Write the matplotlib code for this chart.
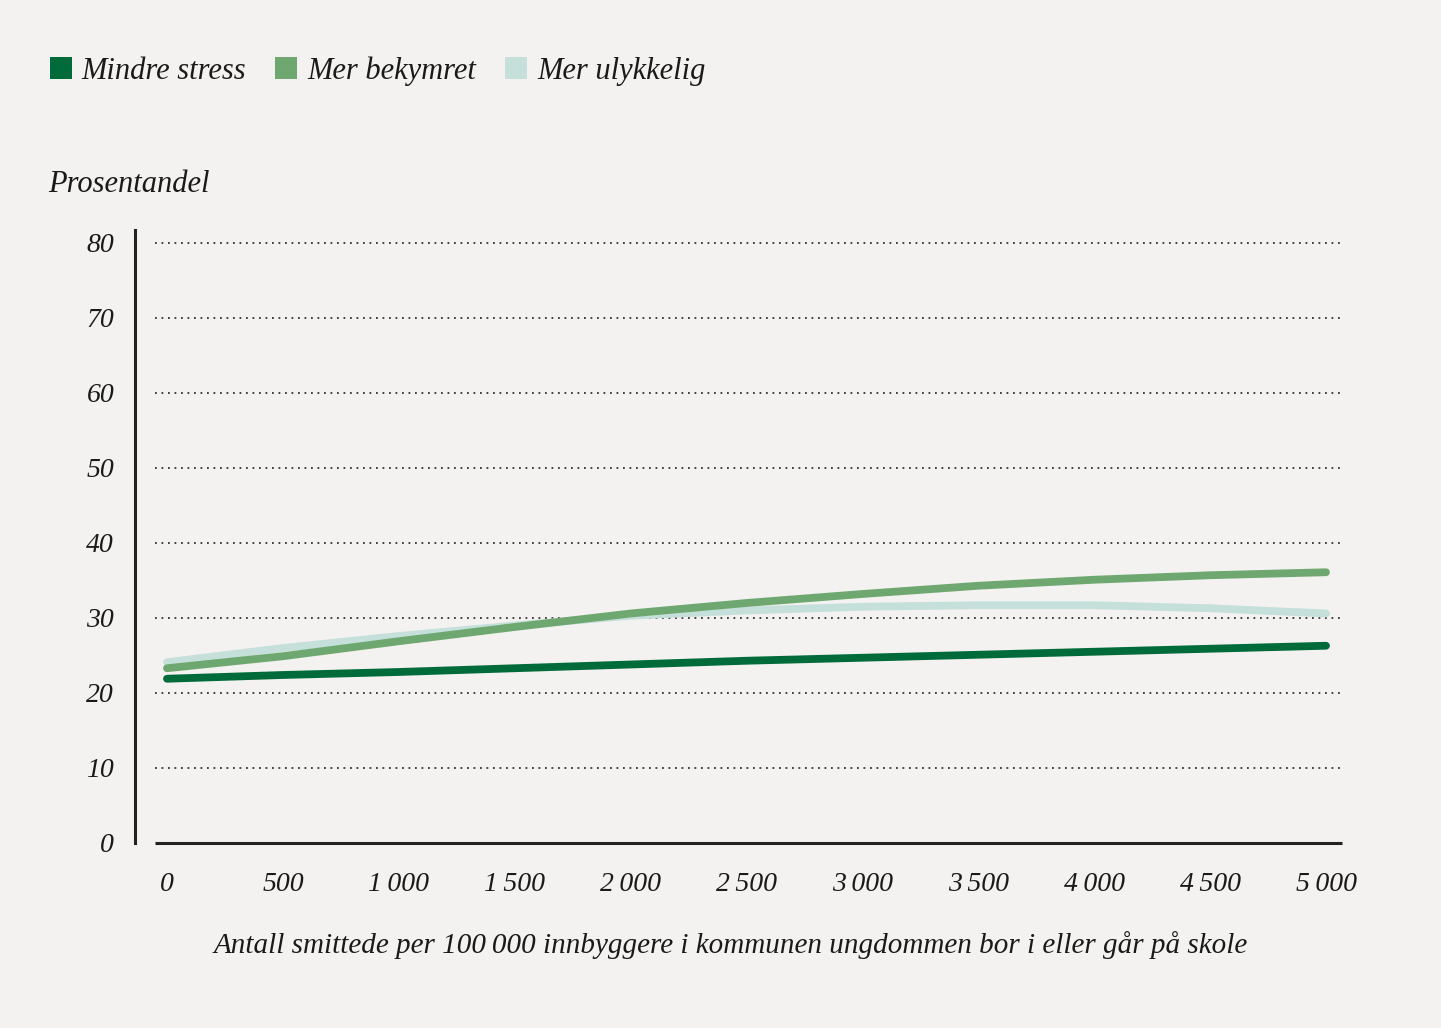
import numpy as np
import matplotlib.pyplot as plt
from matplotlib.patches import Patch

# data
smitte = [0, 500, 1000, 1500, 2000, 2500, 3000, 3500, 4000, 4500, 5000]
mindre_stress = [21.9, 22.4, 22.8, 23.3, 23.8, 24.3, 24.7, 25.1, 25.5, 25.9, 26.3]
mer_bekymret = [23.3, 24.9, 26.9, 28.8, 30.6, 32.0, 33.2, 34.3, 35.1, 35.7, 36.1]
mer_ulykkelig = [24.1, 26.0, 27.6, 29.0, 30.3, 31.0, 31.5, 31.7, 31.7, 31.3, 30.6]
serie_navn = ["Mindre stress", "Mer bekymret", "Mer ulykkelig"]
farger = ["#006b3a", "#6ea870", "#c5dfda"]
yticks = [0, 10, 20, 30, 40, 50, 60, 70, 80]
xticks = [0, 500, 1000, 1500, 2000, 2500, 3000, 3500, 4000, 4500, 5000]
xticklabels = ["0", "500", "1\u2009000", "1\u2009500", "2\u2009000", "2\u2009500",
               "3\u2009000", "3\u2009500", "4\u2009000", "4\u2009500", "5\u2009000"]

bg = "#f3f2f0"
plt.rcParams['font.family'] = ['Liberation Serif', 'DejaVu Serif']
plt.rcParams['font.style'] = 'italic'

fig = plt.figure(figsize=(14.41, 10.28), dpi=100, facecolor=bg)
ax = fig.add_axes([135/1441, 1-843/1028, (1342-135)/1441, (843-230)/1028])
ax.set_facecolor(bg)

xmin, xmax = -138, 5069
ax.set_xlim(xmin, xmax)
ax.set_ylim(0, 81.73)

# dotted grid + solid baseline
for y in yticks[1:]:
    ax.hlines(y, -52, xmax, color="#333333", lw=1.3, linestyle=(0, (1, 2.6)), zorder=1)
ax.hlines(0, -52, xmax, color="#222222", lw=2.2, zorder=2, clip_on=False)

for vals, c in zip([mer_ulykkelig, mer_bekymret, mindre_stress], farger[::-1]):
    ax.plot(smitte, vals, color=c, lw=5.6, solid_capstyle='round', zorder=3)

for s in ["top", "right", "bottom"]:
    ax.spines[s].set_visible(False)
ax.spines["left"].set_linewidth(2.2)
ax.spines["left"].set_color("#222222")

ax.set_yticks(yticks)
ax.set_yticklabels([str(v) for v in yticks])
ax.set_xticks(xticks)
ax.set_xticklabels(xticklabels)
ax.tick_params(axis="y", length=0, pad=15, labelsize=20, labelcolor="#1a1a1a")
ax.tick_params(axis="x", length=0, pad=21, labelsize=20, labelcolor="#1a1a1a")

fig.text(48/1441, 1-184/1028, "Prosentandel", fontsize=22, va="center", ha="left", color="#1a1a1a")
fig.text(731/1441, 1-945/1028, "Antall smittede per 100\u2009000 innbyggere i kommunen ungdommen bor i eller går på skole",
         fontsize=21, va="center", ha="center", color="#1a1a1a")

handles = [Patch(facecolor=c, edgecolor="none") for c in farger]
fig.legend(handles, serie_navn, loc="center left", bbox_to_anchor=(22/1441, 1-71/1028),
           ncol=3, frameon=False, fontsize=22, handlelength=0.72, handleheight=0.72,
           handletextpad=0.33, columnspacing=0.95, labelcolor="#1a1a1a")

fig.savefig("out.png", dpi=100, facecolor=bg)
